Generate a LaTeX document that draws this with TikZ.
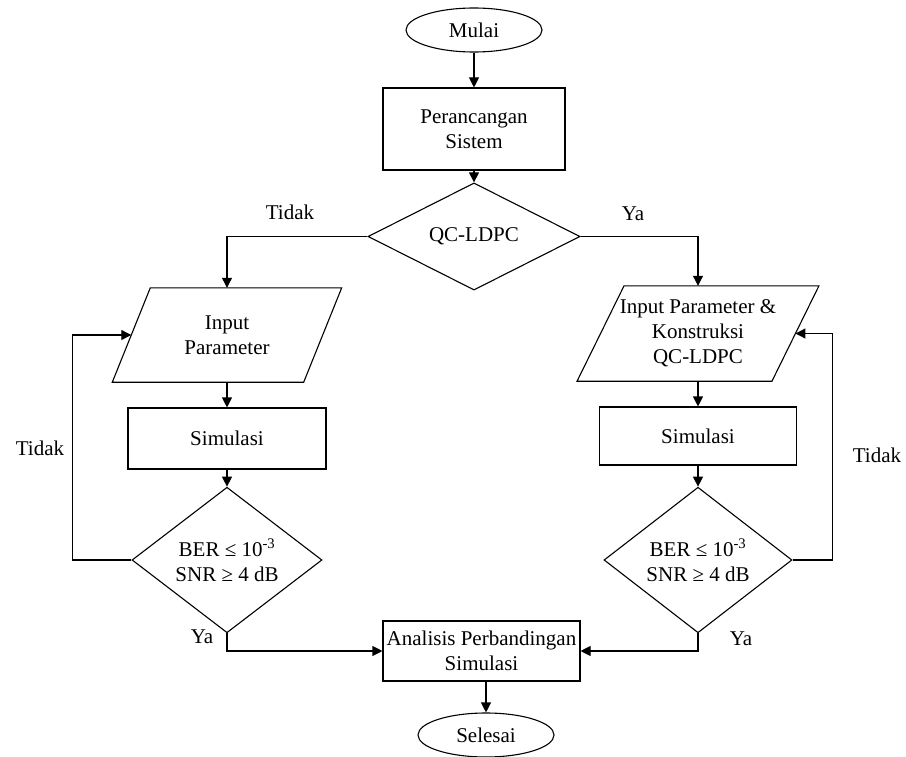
\documentclass[tikz,border=0pt]{standalone}
\usepackage{fontspec}
\setmainfont{Liberation Serif}
\usetikzlibrary{shapes.geometric,arrows.meta}
\begin{document}
\begin{tikzpicture}[x=1pt,y=-1pt,
  every node/.style={font=\fontsize{21}{25}\selectfont, align=center, inner sep=0pt},
  shp/.style={draw, line width=1.1pt},
  term/.style={shp, ellipse, minimum width=136pt, minimum height=44pt},
  proc/.style={shp, rectangle},
  dec/.style={shp, diamond},
  iobody/.style={rectangle},
  lbl/.style={draw=none},
  arr/.style={line width=1.1pt, -{Triangle[length=10pt,width=10pt]}},
  ln/.style={line width=1.1pt, line join=miter}]
\useasboundingbox (0,0) rectangle (906,757);

\node[term] (start) at (474,30) {Mulai};
\node[proc, minimum width=182pt, minimum height=82pt] (design) at (474,129) {Perancangan\\Sistem};
\node[dec, minimum width=212pt, minimum height=83pt] (qc) at (474,236.5) {QC-LDPC};

% left input parallelogram (text node gives anchors on the slanted edges at mid height)
\node[iobody, minimum width=191pt, minimum height=94pt] (lpar) at (227,335) {Input\\Parameter};
\draw[ln] ([xshift=19pt]lpar.north west) -- ([xshift=19pt]lpar.north east)
  -- ([xshift=-19pt]lpar.south east) -- ([xshift=-19pt]lpar.south west) -- cycle;
\node[proc, minimum width=198pt, minimum height=61pt] (lsim) at (227,438.5) {Simulasi};
\node[dec, minimum width=190pt, minimum height=124pt] (ldec) at (227,560) {BER ≤ 10\textsuperscript{-3}\\SNR ≥ 4 dB};

% right input parallelogram
\node[iobody, minimum width=194.5pt, minimum height=95pt] (rpar) at (698,333.5) {Input Parameter \&\\Konstruksi\\QC-LDPC};
\draw[ln] ([xshift=23.5pt]rpar.north west) -- ([xshift=23.5pt]rpar.north east)
  -- ([xshift=-23.5pt]rpar.south east) -- ([xshift=-23.5pt]rpar.south west) -- cycle;
\node[proc, minimum width=197pt, minimum height=58pt] (rsim) at (698,436) {Simulasi};
\node[dec, minimum width=188pt, minimum height=126pt] (rdec) at (698,560) {BER ≤ 10\textsuperscript{-3}\\SNR ≥ 4 dB};

\node[proc, minimum width=197pt, minimum height=60pt] (anal) at (481.5,651) {Analisis Perbandingan\\Simulasi};
\node[term] (end) at (486,735) {Selesai};

\node[lbl] (t1) at (290,212) {Tidak};
\node[lbl] (y1) at (633,214) {Ya};
\node[lbl] (t2) at (40,448) {Tidak};
\node[lbl] (t3) at (877,455) {Tidak};
\node[lbl] (y2) at (202,637) {Ya};
\node[lbl] (y3) at (741,639) {Ya};

\draw[arr] (start) -- (design);
\draw[arr] (design) -- (qc);
\draw[arr] (qc.west) -| (lpar.north);
\draw[arr] (qc.east) -| (rpar.north);
\draw[arr] (lpar) -- (lsim);
\draw[arr] (lsim) -- (ldec);
\draw[arr] (rpar) -- (rsim);
\draw[arr] (rsim) -- (rdec);
\draw[arr] (ldec.west) -- ++(-59,0) |- (lpar.west);
\draw[arr] (rdec.east) -- ++(40,0) |- (rpar.east);
\draw[arr] (ldec.south) |- (anal.west);
\draw[arr] (rdec.south) |- (anal.east);
\draw[arr] (anal.south -| end.north) -- (end.north);
\end{tikzpicture}
\end{document}
